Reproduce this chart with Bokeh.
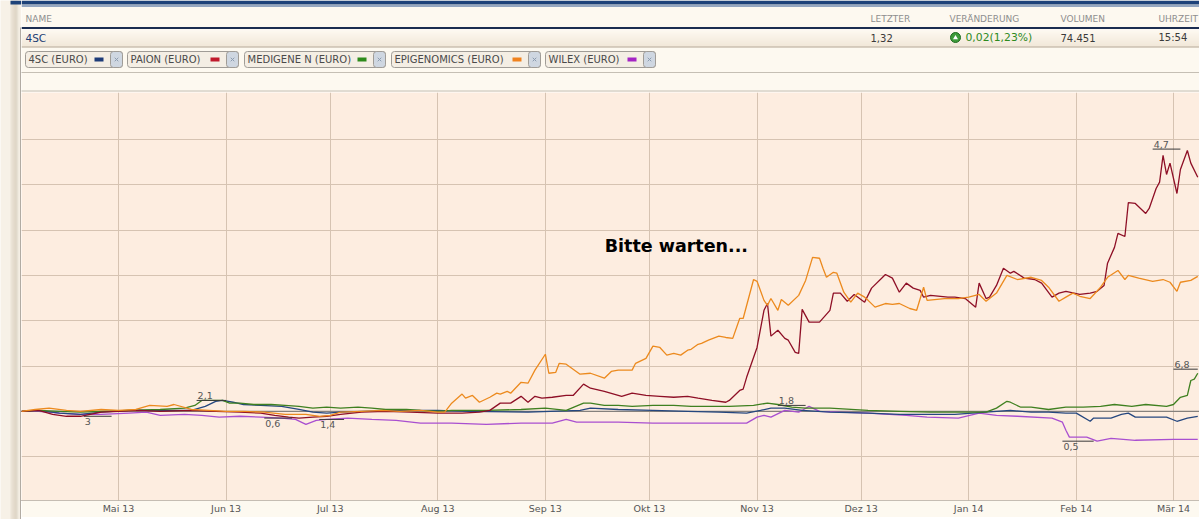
import pandas as pd
from bokeh.plotting import figure
from bokeh.models import Range1d, FixedTicker, CustomJSTickFormatter, Span, Label
from bokeh.layouts import row, column
from bokeh.embed import file_html
from bokeh.resources import INLINE
from bokeh.core.properties import value

FONT = "DejaVu Sans"

# ---------------- data ----------------
series_names = ["4SC (EURO)", "PAION (EURO)", "MEDIGENE N (EURO)", "EPIGENOMICS (EURO)", "WILEX (EURO)"]
line_colors = ["#25477f", "#8e0f26", "#3f8020", "#ec8a1e", "#a94fd0"]
swatch_colors = ["#1d3b78", "#c01a2c", "#2c8a1a", "#f0821e", "#a424c4"]

header_labels = ["NAME", "LETZTER", "VERÄNDERUNG", "VOLUMEN", "UHRZEIT"]
quote_name = "4SC"
quote_last = "1,32"
quote_change = "0,02(1,23%)"
quote_volume = "74.451"
quote_time = "15:54"

month_ticks = ["2013-05-01", "2013-06-01", "2013-07-01", "2013-08-01", "2013-09-01", "2013-10-01",
               "2013-11-01", "2013-12-01", "2014-01-01", "2014-02-01", "2014-03-01"]
month_labels = ["Mai 13", "Jun 13", "Jul 13", "Aug 13", "Sep 13", "Okt 13",
                "Nov 13", "Dez 13", "Jan 14", "Feb 14", "Mär 14"]
pct_grid = [-100, 0, 100, 200, 300, 400, 500, 600]

sc4_dates = ["2013-04-03", "2013-04-08", "2013-04-14", "2013-04-20", "2013-04-26", "2013-05-04", "2013-05-13",
             "2013-05-22", "2013-05-26", "2013-05-29", "2013-05-31", "2013-06-03", "2013-06-06", "2013-06-11",
             "2013-06-17", "2013-06-22", "2013-06-26", "2013-06-30", "2013-07-04", "2013-07-11", "2013-07-20",
             "2013-08-01", "2013-08-10", "2013-08-27", "2013-09-11", "2013-09-14", "2013-09-22", "2013-10-02",
             "2013-10-12", "2013-10-21", "2013-10-29", "2013-11-02", "2013-11-05", "2013-11-09", "2013-11-14",
             "2013-11-22", "2013-12-03", "2013-12-12", "2013-12-21", "2013-12-28", "2014-01-06", "2014-01-13",
             "2014-01-19", "2014-01-24", "2014-01-29", "2014-02-01", "2014-02-05", "2014-02-06", "2014-02-11",
             "2014-02-14", "2014-02-16", "2014-02-18", "2014-02-24", "2014-02-27", "2014-03-02", "2014-03-05",
             "2014-03-08"]
sc4_pct = [0, 2, -4, -7, -2, 2, 2, 2, 11, 22, 24, 20, 15, 13, 11, 4, -2, -4, -2, 0, 2, 2, 0, -2, 2, 7, 4, 2,
           0, -2, -4, 2, 7, 7, 2, -2, -4, -7, -7, -7, -2, 2, -2, -2, -4, -4, -22, -15, -15, -7, -4, -13, -13,
           -13, -22, -15, -11]

paion_dates = ["2013-04-03", "2013-04-08", "2013-04-12", "2013-04-16", "2013-04-20", "2013-04-26", "2013-05-01",
               "2013-05-07", "2013-05-13", "2013-05-22", "2013-05-29", "2013-06-05", "2013-06-11", "2013-06-15",
               "2013-06-19", "2013-06-22", "2013-06-26", "2013-06-30", "2013-07-04", "2013-07-10", "2013-07-17",
               "2013-07-24", "2013-08-01", "2013-08-08", "2013-08-13", "2013-08-16", "2013-08-19", "2013-08-22",
               "2013-08-25", "2013-08-27", "2013-08-29", "2013-08-31", "2013-09-03", "2013-09-07", "2013-09-09",
               "2013-09-12", "2013-09-14", "2013-09-18", "2013-09-23", "2013-09-26", "2013-09-30", "2013-10-04",
               "2013-10-08", "2013-10-12", "2013-10-15", "2013-10-19", "2013-10-23", "2013-10-24", "2013-10-27",
               "2013-10-28", "2013-10-29", "2013-11-01", "2013-11-03", "2013-11-04", "2013-11-05", "2013-11-07",
               "2013-11-09", "2013-11-10", "2013-11-12", "2013-11-13", "2013-11-14", "2013-11-16", "2013-11-19",
               "2013-11-22", "2013-11-23", "2013-11-25", "2013-11-27", "2013-11-29", "2013-12-02", "2013-12-04",
               "2013-12-08", "2013-12-10", "2013-12-12", "2013-12-14", "2013-12-16", "2013-12-18", "2013-12-19",
               "2013-12-21", "2013-12-26", "2013-12-28", "2013-12-31", "2014-01-03", "2014-01-04", "2014-01-06",
               "2014-01-07", "2014-01-09", "2014-01-11", "2014-01-13", "2014-01-14", "2014-01-17", "2014-01-20",
               "2014-01-22", "2014-01-25", "2014-01-27", "2014-01-29", "2014-02-02", "2014-02-05", "2014-02-07",
               "2014-02-09", "2014-02-10", "2014-02-12", "2014-02-13", "2014-02-15", "2014-02-16", "2014-02-18",
               "2014-02-21", "2014-02-22", "2014-02-24", "2014-02-25", "2014-02-26", "2014-02-27", "2014-02-28",
               "2014-03-02", "2014-03-03", "2014-03-05", "2014-03-06", "2014-03-08"]
paion_pct = [0, 2, -7, -11, -11, -2, 0,
             2, 0, 2, 0, -2, -4, -9,
             -13, -15, -13, -11, -7, -2, 0,
             -2, -4, -4, -2, 2, 18, 18,
             33, 20, 33, 29, 31, 35, 35,
             60, 51, 44, 33, 40, 35, 33,
             31, 33, 29, 24, 20, 24, 46,
             49, 75, 141, 223, 238, 166, 179,
             161, 157, 130, 128, 225, 197, 197,
             223, 261, 261, 243, 258, 241, 272,
             302, 294, 263, 283, 272, 267, 252,
             256, 252, 252, 249, 230, 283, 249,
             252, 278, 316, 305, 309, 294, 291,
             283, 252, 261, 265, 258, 261, 265,
             278, 327, 362, 393, 386, 461, 459,
             437, 448, 492, 506, 565, 523, 548,
             481, 534, 576, 548, 517]

medigene_dates = ["2013-04-03", "2013-04-08", "2013-04-14", "2013-04-20", "2013-04-26", "2013-05-04", "2013-05-13",
                  "2013-05-20", "2013-05-23", "2013-05-25", "2013-05-29", "2013-05-31", "2013-06-02", "2013-06-05",
                  "2013-06-09", "2013-06-14", "2013-06-18", "2013-06-22", "2013-06-26", "2013-06-30", "2013-07-04",
                  "2013-07-09", "2013-07-13", "2013-07-17", "2013-07-23", "2013-07-27", "2013-08-01", "2013-08-05",
                  "2013-08-15", "2013-08-25", "2013-09-01", "2013-09-07", "2013-09-12", "2013-09-14", "2013-09-18",
                  "2013-09-22", "2013-09-26", "2013-10-02", "2013-10-08", "2013-10-13", "2013-10-19", "2013-10-24",
                  "2013-10-31", "2013-11-04", "2013-11-07", "2013-11-11", "2013-11-15", "2013-11-22", "2013-12-03",
                  "2013-12-12", "2013-12-21", "2013-12-31", "2014-01-06", "2014-01-09", "2014-01-12", "2014-01-13",
                  "2014-01-16", "2014-01-19", "2014-01-24", "2014-01-29", "2014-02-03", "2014-02-08", "2014-02-12",
                  "2014-02-17", "2014-02-21", "2014-02-27", "2014-03-01", "2014-03-03", "2014-03-05", "2014-03-06",
                  "2014-03-07", "2014-03-08"]
medigene_pct = [0, 2, 0, -2, 0, 2, 4,
                7, 13, 24, 24, 24, 18, 18,
                15, 15, 13, 11, 7, 9, 7,
                9, 7, 4, 4, 2, 0, 2,
                2, 4, 7, 2, 18, 18, 13,
                13, 11, 13, 13, 11, 11, 11,
                13, 18, 15, 9, 7, 7, 2,
                0, -2, -2, -2, 7, 22, 20,
                9, 9, 4, 9, 9, 11, 15,
                11, 15, 11, 15, 31, 35, 68,
                71, 84]

epig_dates = ["2013-04-03", "2013-04-07", "2013-04-11", "2013-04-16", "2013-04-20", "2013-04-26", "2013-05-01",
              "2013-05-06", "2013-05-10", "2013-05-15", "2013-05-17", "2013-05-22", "2013-05-27", "2013-06-01",
              "2013-06-06", "2013-06-12", "2013-06-18", "2013-06-24", "2013-06-28", "2013-07-01", "2013-07-04",
              "2013-07-10", "2013-07-16", "2013-07-21", "2013-07-27", "2013-08-01", "2013-08-03", "2013-08-05",
              "2013-08-08", "2013-08-09", "2013-08-11", "2013-08-13", "2013-08-16", "2013-08-18", "2013-08-19",
              "2013-08-21", "2013-08-22", "2013-08-25", "2013-08-27", "2013-08-29", "2013-09-01", "2013-09-02",
              "2013-09-04", "2013-09-05", "2013-09-07", "2013-09-11", "2013-09-14", "2013-09-18", "2013-09-20",
              "2013-09-22", "2013-09-26", "2013-09-27", "2013-09-30", "2013-10-02", "2013-10-04", "2013-10-06",
              "2013-10-08", "2013-10-10", "2013-10-12", "2013-10-13", "2013-10-15", "2013-10-16", "2013-10-18",
              "2013-10-21", "2013-10-23", "2013-10-25", "2013-10-27", "2013-10-28", "2013-10-31", "2013-11-01",
              "2013-11-03", "2013-11-04", "2013-11-05", "2013-11-07", "2013-11-08", "2013-11-10", "2013-11-13",
              "2013-11-15", "2013-11-17", "2013-11-19", "2013-11-20", "2013-11-21", "2013-11-23", "2013-11-24",
              "2013-11-26", "2013-11-28", "2013-11-30", "2013-12-02", "2013-12-03", "2013-12-05", "2013-12-08",
              "2013-12-10", "2013-12-12", "2013-12-15", "2013-12-17", "2013-12-19", "2013-12-20", "2013-12-25",
              "2013-12-29", "2014-01-01", "2014-01-04", "2014-01-06", "2014-01-09", "2014-01-12", "2014-01-15",
              "2014-01-19", "2014-01-22", "2014-01-24", "2014-01-27", "2014-01-29", "2014-01-31", "2014-02-02",
              "2014-02-05", "2014-02-08", "2014-02-10", "2014-02-13", "2014-02-15", "2014-02-16", "2014-02-19",
              "2014-02-23", "2014-02-26", "2014-02-28", "2014-03-02", "2014-03-03", "2014-03-06", "2014-03-08"]
epig_pct = [0, 4, 7, 2, 0, 4, 2,
            4, 13, 11, 15, 4, 2, 0,
            0, -2, -7, -7, -11, -9, -2,
            0, 2, 0, 2, -2, -2, 18,
            38, 29, 35, 20, 31, 40, 38,
            44, 40, 64, 62, 91, 126, 84,
            86, 106, 104, 82, 84, 73, 88,
            91, 91, 106, 117, 144, 141, 124,
            128, 124, 135, 137, 148, 150, 157,
            166, 163, 161, 205, 205, 291, 287,
            245, 234, 249, 223, 247, 234, 256,
            289, 340, 338, 316, 296, 307, 305,
            263, 241, 261, 252, 245, 230, 238,
            236, 238, 227, 223, 274, 245, 249,
            249, 252, 258, 243, 261, 300, 291,
            296, 289, 274, 243, 252, 261, 254,
            249, 274, 296, 311, 291, 300, 294,
            287, 291, 285, 265, 285, 289, 298]

wilex_dates = ["2013-04-03", "2013-04-08", "2013-04-14", "2013-04-20", "2013-04-26", "2013-05-04", "2013-05-09",
               "2013-05-13", "2013-05-20", "2013-05-25", "2013-05-30", "2013-06-05", "2013-06-11", "2013-06-17",
               "2013-06-21", "2013-06-24", "2013-06-27", "2013-06-30", "2013-07-06", "2013-07-13", "2013-07-20",
               "2013-07-27", "2013-08-05", "2013-08-15", "2013-08-25", "2013-09-03", "2013-09-07", "2013-09-10",
               "2013-09-22", "2013-10-02", "2013-10-12", "2013-10-21", "2013-10-29", "2013-11-01", "2013-11-03",
               "2013-11-05", "2013-11-09", "2013-11-13", "2013-11-16", "2013-11-19", "2013-11-25", "2013-12-03",
               "2013-12-14", "2013-12-20", "2013-12-29", "2014-01-04", "2014-01-09", "2014-01-15", "2014-01-25",
               "2014-01-28", "2014-01-29", "2014-01-30", "2014-02-04", "2014-02-07", "2014-02-11", "2014-02-18",
               "2014-03-01", "2014-03-08"]
wilex_pct = [0, 0, -4, -7, -7, -4, -2,
             -9, -7, -9, -13, -11, -13, -15,
             -18, -29, -20, -18, -15, -18, -20,
             -26, -26, -29, -26, -26, -18, -24,
             -24, -26, -26, -26, -26, -13, -9,
             -13, 2, -2, 11, 0, -2, -4,
             -9, -13, -15, -4, -9, -11, -15,
             -24, -42, -57, -57, -66, -60, -64,
             -62, -62]

# high / low markers of the comparison chart
max_texts = ["2,1", "1,8", "4,7", "6,8"]
max_start = ["2013-05-23 12:00", "2013-11-07 00:00", "2014-02-23 00:00", "2014-03-01 00:00"]
max_end = ["2013-06-01 00:00", "2013-11-15 00:00", "2014-03-03 00:00", "2014-03-08 00:00"]
max_pct = [24, 13, 579, 93]
min_texts = ["3", "0,6", "1,4", "0,5"]
min_start = ["2013-04-21 00:00", "2013-06-12 00:00", "2013-06-27 20:00", "2014-01-28 00:00"]
min_end = ["2013-04-29 00:00", "2013-06-20 00:00", "2013-07-05 00:00", "2014-02-06 00:00"]
min_pct = [-11, -15, -18, -66]

wait_text = "Bitte warten..."

# ---------------- layout sizes ----------------
W_STRIP = 21
W = 1178
H_HDR = 92
H_MAIN = 425
H_FOOT = 2
H_ALL = H_HDR + H_MAIN + H_FOOT
CREAM = "#fdf9f0"
NAVY = "#1d4279"


def dt(lst):
    return pd.to_datetime(lst, format="mixed")


# ---------------- left shadow strip ----------------
strip = figure(width=W_STRIP, height=H_ALL, x_range=Range1d(0, W_STRIP), y_range=Range1d(H_ALL, 0),
               x_axis_type=None, y_axis_type=None, toolbar_location=None, output_backend="svg", min_border=0,
               outline_line_color=None, background_fill_color="#f7f1e7", border_fill_color="#f7f1e7")
shade = ["#ece4d7", "#e6ddcf", "#e1d8c9", "#ddd3c4", "#dad0c0", "#d8cebe", "#dcd3c4", "#e6dfd3", "#f2ece2"]
strip.quad(left=[10 + i for i in range(len(shade))], right=[11 + i for i in range(len(shade))],
           top=[0] * len(shade), bottom=[H_ALL] * len(shade), fill_color=shade, line_color=None)
strip.quad(left=[10], right=[W_STRIP], top=[0], bottom=[4], fill_color=NAVY, line_color=None)
strip.quad(left=[20], right=[21], top=[27], bottom=[H_ALL], fill_color="#6c6760", line_color=None)

# ---------------- header ----------------
hdr = figure(width=W, height=H_HDR, x_range=Range1d(0, W), y_range=Range1d(H_HDR, 0),
             x_axis_type=None, y_axis_type=None, toolbar_location=None, output_backend="svg",
             min_border=0, outline_line_color=None, background_fill_color=CREAM, border_fill_color=CREAM)

hdr.quad(left=[0], right=[W], top=[0], bottom=[4], fill_color=NAVY, line_color=None)
hdr.segment(x0=[0], x1=[W], y0=[5.5], y1=[5.5], line_color="#2c5490", line_width=1)

hdr.text(x=[4, 849, 928, 1039, 1137], y=[18] * 5, text=header_labels, text_font=value(FONT),
         text_font_size="9px", text_color="#8e8e8e", text_baseline="middle")

# quote row gradient
c0 = (254, 250, 243)
c1 = (238, 227, 210)
nb = 17
band_cols = ["#%02x%02x%02x" % tuple(int(c0[k] + (c1[k] - c0[k]) * i / (nb - 1)) for k in range(3)) for i in range(nb)]
hdr.quad(left=[0] * nb, right=[W] * nb, top=[29 + i for i in range(nb)], bottom=[30 + i for i in range(nb)],
         fill_color=band_cols, line_color=None)
hdr.segment(x0=[0], x1=[W], y0=[27.5], y1=[27.5], line_color="#1b2d50", line_width=2)
hdr.segment(x0=[0], x1=[W], y0=[46.5], y1=[46.5], line_color="#b3a592", line_width=1)

hdr.text(x=[4], y=[37], text=[quote_name], text_font=value(FONT), text_font_size="10.5px",
         text_color="#1d3d73", text_baseline="middle")
hdr.text(x=[849, 1039, 1137], y=[37] * 3, text=[quote_last, quote_volume, quote_time], text_font=value(FONT),
         text_font_size="10px", text_color="#3a3a3a", text_baseline="middle")
hdr.scatter(x=[934], y=[37], size=10, fill_color="#3d9b3a", line_color="#1f6a1f", line_width=1)
hdr.scatter(x=[934], y=[37.3], marker="triangle", size=5, fill_color="white", line_color=None)
hdr.text(x=[944], y=[37], text=[quote_change], text_font=value(FONT), text_font_size="10.8px",
         text_color="#2e8a1e", text_baseline="middle")

# legend buttons
btn_left = [4, 106, 223, 370, 524]
btn_right = [101, 217, 364, 519, 634]
hdr.quad(left=btn_left, right=btn_right, top=[51] * 5, bottom=[67] * 5, fill_color="#f4eee4",
         line_color="#a09c96", line_width=1, border_radius=3)
hdr.quad(left=[r - 12 for r in btn_right], right=btn_right, top=[51] * 5, bottom=[67] * 5,
         fill_color="#cfd7e1", line_color="#a09c96", line_width=1, border_radius=3)
hdr.scatter(x=[r - 6 for r in btn_right], y=[59] * 5, marker="x", size=5, line_color="#8c9cb0", line_width=1)
hdr.quad(left=[r - 28 for r in btn_right], right=[r - 19 for r in btn_right], top=[57] * 5, bottom=[61] * 5,
         fill_color=swatch_colors, line_color=None)
hdr.text(x=[l + 3 for l in btn_left], y=[59] * 5, text=series_names, text_font=value(FONT),
         text_font_size="10px", text_color="#4a4a4a", text_baseline="middle")

hdr.segment(x0=[0, 0], x1=[W, W], y0=[72, 90.5], y1=[72, 90.5], line_color="#8c8478", line_dash="1 1",
            line_width=1)

# ---------------- main chart ----------------
x_start = pd.Timestamp("2013-04-03 01:00")
x_end = pd.Timestamp("2014-03-08 12:00")
p = figure(width=W, height=H_MAIN, x_axis_type="datetime", x_range=Range1d(x_start, x_end),
           y_range=Range1d(-197, 704), toolbar_location=None, output_backend="svg",
           min_border_left=0, min_border_right=0, min_border_top=0, min_border_bottom=17,
           background_fill_color="#fdede0", border_fill_color=CREAM, outline_line_color=None)
p.yaxis.visible = False

tick_ms = [float(pd.Timestamp(d).value // 10**6) for d in month_ticks]
p.xaxis.ticker = FixedTicker(ticks=tick_ms)
p.xaxis.formatter = CustomJSTickFormatter(args=dict(month_ms=tick_ms, month_names=month_labels), code="""
for (let i = 0; i < month_ms.length; i++) { if (Math.abs(month_ms[i] - tick) < 1000) return month_names[i]; }
return "";
""")
p.xaxis.major_tick_line_color = None
p.xaxis.minor_tick_line_color = None
p.xaxis.major_tick_out = 0
p.xaxis.major_tick_in = 0
p.xaxis.minor_tick_out = 0
p.xaxis.minor_tick_in = 0
p.xaxis.axis_line_color = "#8c857b"
p.xaxis.axis_line_dash = "1 1"
p.xaxis.major_label_text_font = FONT
p.xaxis.major_label_text_font_size = "9.5px"
p.xaxis.major_label_text_color = "#555555"
p.xaxis.major_label_standoff = 2

p.xgrid.ticker = FixedTicker(ticks=tick_ms)
p.ygrid.ticker = FixedTicker(ticks=pct_grid)
p.xgrid.grid_line_color = "#d6c3b2"
p.ygrid.grid_line_color = "#d6c3b2"

p.add_layout(Span(location=0, dimension="width", line_color="#707070", line_width=1, level="underlay"))

series = [(sc4_dates, sc4_pct), (paion_dates, paion_pct), (medigene_dates, medigene_pct),
          (epig_dates, epig_pct), (wilex_dates, wilex_pct)]
order = [4, 0, 2, 1, 3]
for i in order:
    d, v = series[i]
    p.line(x=dt(d), y=v, line_color=line_colors[i], line_width=1.3)

p.segment(x0=dt(max_start), x1=dt(max_end), y0=max_pct, y1=max_pct, line_color="#3a3a3a", line_width=1)
p.segment(x0=dt(min_start), x1=dt(min_end), y0=min_pct, y1=min_pct, line_color="#3a3a3a", line_width=1)
p.text(x=dt(max_start), y=max_pct, text=max_texts, text_font=value(FONT), text_font_size="9.5px",
       text_color="#555555", text_baseline="bottom", y_offset=-1, x_offset=1)
p.text(x=dt(min_start), y=min_pct, text=min_texts, text_font=value(FONT), text_font_size="9.5px",
       text_color="#555555", text_baseline="top", y_offset=2, x_offset=1)

p.add_layout(Label(x=pd.Timestamp("2013-10-08 18:00").value / 1e6, y=364, text=wait_text,
                   text_font=FONT, text_font_style="bold", text_font_size="17.5px", text_color="#000000",
                   text_align="center", text_baseline="middle"))

# ---------------- bottom border ----------------
foot = figure(width=W, height=H_FOOT, x_range=Range1d(0, W), y_range=Range1d(H_FOOT, 0),
              x_axis_type=None, y_axis_type=None, toolbar_location=None, output_backend="svg",
              min_border=0, outline_line_color=None, background_fill_color="#f3ece1", border_fill_color="#f3ece1")
foot.quad(left=[0], right=[W], top=[0], bottom=[1], fill_color="#7d776f", line_color=None)

layout = row(strip, column(hdr, p, foot, spacing=0), spacing=0)
open("out.html", "w").write(file_html(layout, INLINE))
